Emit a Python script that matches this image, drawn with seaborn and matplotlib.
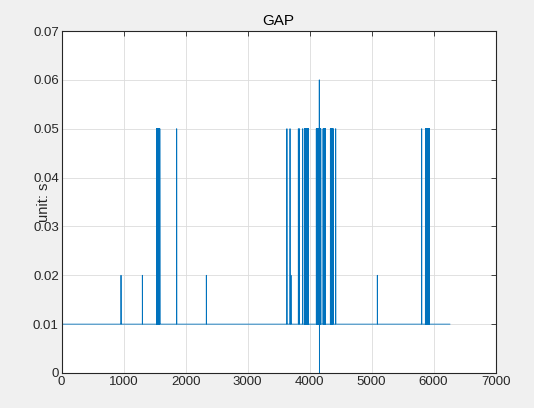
import numpy as np
import pandas as pd
import matplotlib
matplotlib.use('Agg')
from matplotlib import pyplot as plt
import seaborn as sns

# values (sample index -> gap in seconds)
n_samples = 6266
baseline = 0.01
first_value = 0.0
spike_idx = [958, 1302, 1856, 2334, 3634, 3684, 3700, 3818, 3834, 3889,
             4156, 4158, 4421, 5092, 5808]
spike_val = [0.02, 0.02, 0.05, 0.02, 0.05, 0.05, 0.02, 0.05, 0.05, 0.05,
             0.06, 0.0, 0.05, 0.02, 0.05]
# dense groups of 0.05 spikes (start, end) that render as solid bars
dense_start = [1532, 3918, 4108, 4218, 4335, 5868]
dense_end = [1588, 3982, 4182, 4255, 4380, 5935]
dense_val = 0.05
dense_step = 4

# build the series
gap = np.full(n_samples, baseline)
gap[0] = first_value
for s, e in zip(dense_start, dense_end):
    gap[s:e:dense_step] = dense_val
for i, v in zip(spike_idx, spike_val):
    gap[i] = v
df = pd.DataFrame({'idx': np.arange(n_samples), 'gap': gap})

sns.set_style('white')
plt.rcParams['font.family'] = ['Liberation Sans', 'DejaVu Sans']

fig = plt.figure(figsize=(5.34, 4.08), dpi=100, facecolor='#f0f0f0')
ax = fig.add_axes([0.1154, 0.0858, 0.8127, 0.8382])
sns.lineplot(data=df, x='idx', y='gap', color='#0072BD', linewidth=0.6,
             estimator=None, ax=ax)

ax.set_xlim(0, 7000)
ax.set_ylim(0, 0.07)
ax.set_xticks(range(0, 7001, 1000))
ax.set_yticks(np.arange(0, 0.0701, 0.01))
ax.set_yticklabels(['0', '0.01', '0.02', '0.03', '0.04', '0.05', '0.06', '0.07'])
ax.grid(True, color='#dcdcdc', linewidth=0.6)
ax.set_axisbelow(True)
ax.tick_params(direction='in', length=3.5, width=0.6, color='#262626',
               labelcolor='#262626', labelsize=9.5, pad=2,
               top=True, right=True)
for sp in ax.spines.values():
    sp.set_color('#262626')
    sp.set_linewidth(0.8)

ax.set_title('GAP', fontsize=11, color='black', pad=4)
ax.set_xlabel('')
ax.set_ylabel('unit: s', fontsize=10.5, color='#262626')
ax.yaxis.set_label_coords(-0.025, 0.5)

fig.savefig('out.png', dpi=100, facecolor=fig.get_facecolor())
